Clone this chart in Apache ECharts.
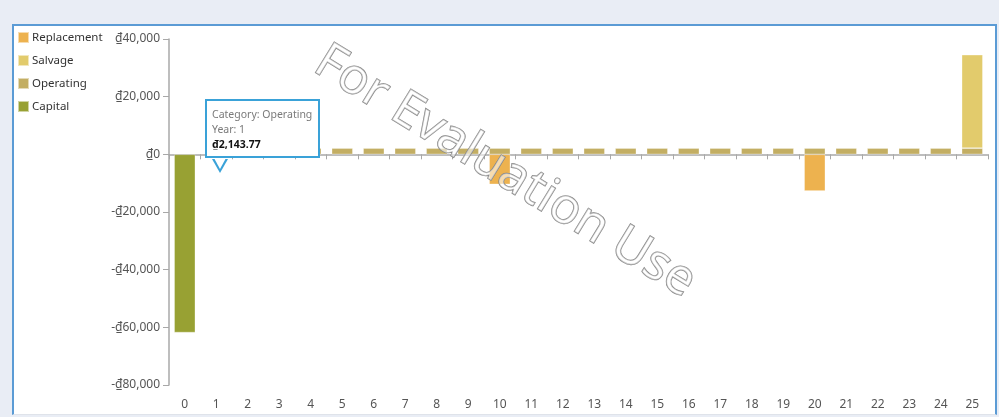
<!DOCTYPE html>
<html>
<head>
<meta charset="utf-8">
<script src="https://cdn.jsdelivr.net/npm/echarts@6/dist/echarts.min.js"></script>
<style>
  html, body { margin: 0; padding: 0; background: #e9edf5; }
  #panel {
    position: absolute; left: 12px; top: 24px; width: 981px; height: 388px;
    background: #fff; border: 2px solid #5b9bd5; border-bottom: 1px solid #dfe3ea;
  }
  #chart { position: absolute; left: 0; top: 0; width: 999px; height: 417px; }
</style>
</head>
<body>
<div id="panel"></div>
<div id="chart"></div>
<script>
// Cash flow by year, one stacked column per year
const years = ['0','1','2','3','4','5','6','7','8','9','10','11','12','13','14','15','16','17','18','19','20','21','22','23','24','25'];
const capital     = [-61800, null, null, null, null, null, null, null, null, null, null, null, null, null, null, null, null, null, null, null, null, null, null, null, null, null];
const operating   = [null, 2143.77, 2143.77, 2143.77, 2143.77, 2143.77, 2143.77, 2143.77, 2143.77, 2143.77, 2143.77, 2143.77, 2143.77, 2143.77, 2143.77, 2143.77, 2143.77, 2143.77, 2143.77, 2143.77, 2143.77, 2143.77, 2143.77, 2143.77, 2143.77, 2143.77];
const replacement = [null, null, null, null, null, null, null, null, null, null, -10400, null, null, null, null, null, null, null, null, null, -12700, null, null, null, null, null];
const salvage     = [null, null, null, null, null, null, null, null, null, null, null, null, null, null, null, null, null, null, null, null, null, null, null, null, null, 32400];
const legendOrder = ['Replacement', 'Salvage', 'Operating', 'Capital'];
const yTicks = { min: -80000, max: 40000, step: 20000 };

const FONT = '"Noto Sans", "Open Sans", sans-serif';
const money = v => (v < 0 ? '-' : '') + '\u20ab' + Math.abs(v).toLocaleString('en-US');
const money2 = v => (v < 0 ? '-' : '') + '\u20ab' + Math.abs(v).toLocaleString('en-US', { minimumFractionDigits: 2, maximumFractionDigits: 2 });

const chart = echarts.init(document.getElementById('chart'), null, { renderer: 'canvas' });

function bar(name, data, color) {
  return {
    name, type: 'bar', stack: 'flow', data, barWidth: '67%',
    itemStyle: { color, borderColor: 'rgba(255,255,255,0.55)', borderWidth: 0.6 },
    emphasis: { disabled: true }
  };
}

chart.setOption({
  animation: false,
  textStyle: { fontFamily: FONT },
  legend: {
    orient: 'vertical', left: 17, top: 31, padding: 0, itemWidth: 11, itemHeight: 11, itemGap: 10,
    icon: 'rect', data: legendOrder,
    textStyle: { color: '#333', fontSize: 11.5, fontFamily: FONT, padding: [0, 0, 0, -2] }
  },
  grid: { left: 169, right: 11, top: 39, bottom: 32, containLabel: false },
  xAxis: {
    type: 'category', data: years,
    axisLine: { lineStyle: { color: '#a8a8a8', width: 1.5 } },
    axisTick: { show: true, length: 5, lineStyle: { color: '#a8a8a8' } },
    axisLabel: { color: '#555', fontSize: 12, margin: 14, fontFamily: FONT },
    splitLine: { show: false }
  },
  yAxis: {
    type: 'value', min: yTicks.min, max: yTicks.max, interval: yTicks.step,
    axisLine: { show: true, lineStyle: { color: '#a8a8a8', width: 1.5 } },
    axisTick: { show: true, length: 6, lineStyle: { color: '#a8a8a8' } },
    axisLabel: { color: '#555', fontSize: 12, margin: 9, fontFamily: FONT, formatter: money },
    splitLine: { show: false }
  },
  tooltip: {
    trigger: 'item', triggerOn: 'none', alwaysShowContent: true,
    transitionDuration: 0, showDelay: 0, hideDelay: 0,
    backgroundColor: '#fff', borderColor: '#3aa2d8', borderWidth: 2, borderRadius: 0,
    padding: [6, 6, 4, 5],
    extraCssText: 'box-shadow:none; overflow:visible; line-height:15px;',
    textStyle: { fontFamily: FONT, fontSize: 10.5, color: '#7a7a7a' },
    formatter: p =>
      '<div style="position:relative;white-space:nowrap">' +
      '<div>Category: ' + p.seriesName + '</div>' +
      '<div>Year: ' + p.name + '</div>' +
      '<div style="color:#111;font-weight:bold">' + money2(p.value) + '</div>' +
      '<div style="position:absolute;left:0px;bottom:-21px;width:0;height:0;border-left:8px solid transparent;border-right:8px solid transparent;border-top:14px solid #3aa2d8"></div>' +
      '<div style="position:absolute;left:2px;bottom:-17px;width:0;height:0;border-left:6px solid transparent;border-right:6px solid transparent;border-top:11px solid #fff"></div>' +
      '</div>',
    position: function (point, params, dom, rect, size) {
      const tip = chart.convertToPixel({ gridIndex: 0 }, [params.dataIndex, 0]);
      return [tip[0] - 11, tip[1] - 55];
    }
  },
  graphic: [{
    type: 'text', x: 505, y: 172, rotation: -0.55, silent: true, z: 100,
    style: {
      text: 'For Evaluation Use', x: 0, y: 0, align: 'center', verticalAlign: 'middle',
      font: '50px ' + FONT, fill: 'rgba(255,255,255,0.55)', stroke: '#858585', lineWidth: 1.3
    }
  }],
  series: [
    bar('Capital', capital, '#98a133'),
    bar('Operating', operating, '#c3ae63'),
    bar('Replacement', replacement, '#edb24f'),
    bar('Salvage', salvage, '#e2cb6c')
  ]
});

chart.dispatchAction({ type: 'showTip', seriesIndex: 1, dataIndex: 1 });
</script>
</body>
</html>
